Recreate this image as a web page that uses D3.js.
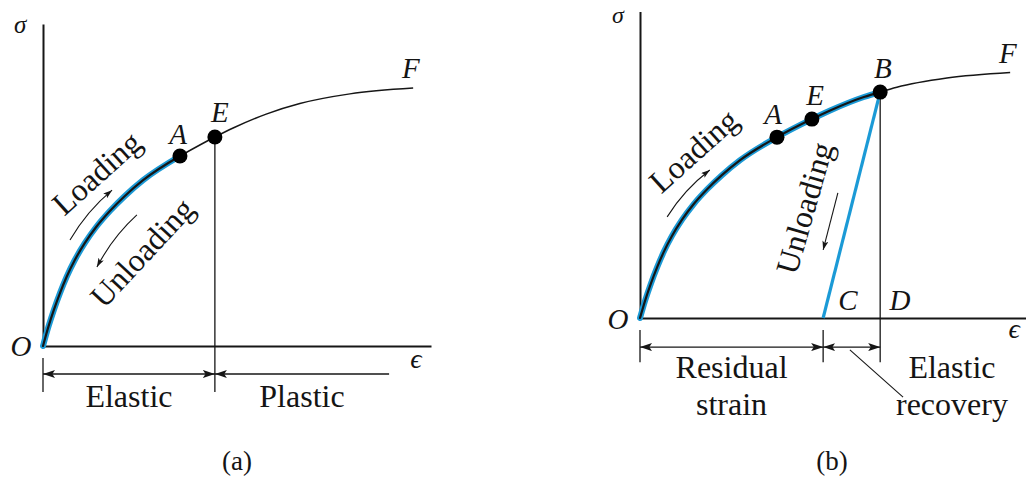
<!DOCTYPE html>
<html>
<head>
<meta charset="utf-8">
<script src="https://cdn.jsdelivr.net/npm/d3@7"></script>
<style>
  body { margin: 0; background: #fff; }
  svg { display: block; }
  text { font-family: "Liberation Serif", "Times New Roman", serif; fill: #141414; }
  .sym { font-style: italic; }
</style>
</head>
<body>
<svg id="chart" width="1026" height="483"></svg>
<script>
// Stress–strain curve (plot units): strain on the horizontal axis, stress on the vertical
const strain = [0, 1.4, 2.8, 4.4, 6.1, 8.2, 10.8, 13.8, 17.3, 21.1, 25.8, 35.3, 44.3, 49.0, 57.7, 66.2, 79.1, 95.4];
const stress = [0, 6.0, 11.2, 16.5, 21.5, 26.7, 32.0, 37.1, 42.0, 46.6, 51.5, 59.0, 64.9, 67.7, 72.1, 75.3, 78.3, 80.1];

// Named points on the curve
const pointNames   = ["A", "E", "B"];
const pointStrain  = [35.3, 44.3, 61.9];
const pointStress  = [59.0, 64.9, 73.7];

// Point C: strain left after unloading from B
const residualStrain = 47.2;
// End of the "Plastic" span arrow in panel (a)
const plasticEnd = 89.2;

const curve = strain.map((s, i) => ({ strain: s, stress: stress[i] }));
const named = {};
pointNames.forEach((n, i) => named[n] = { strain: pointStrain[i], stress: pointStress[i] });

const svg = d3.select("#chart");
const ink = "#161616";
const blue = "#1b9ad6";

// Arrowhead markers
const defs = svg.append("defs");
function marker(id, w, h) {
  defs.append("marker")
    .attr("id", id)
    .attr("viewBox", `0 0 ${w} ${h}`)
    .attr("refX", w).attr("refY", h / 2)
    .attr("markerWidth", w).attr("markerHeight", h)
    .attr("markerUnits", "userSpaceOnUse")
    .attr("orient", "auto-start-reverse")
    .append("path")
    .attr("d", `M0,0 L${w},${h / 2} L0,${h} L${w * 0.22},${h / 2} Z`)
    .attr("fill", ink);
}
marker("dim", 12, 8);
marker("small", 9, 6);

const line = (x, y) => d3.line().x(d => x(d.strain)).y(d => y(d.stress)).curve(d3.curveMonotoneX);

function drawPanel(cfg) {
  const { x, y } = cfg;
  const g = svg.append("g");
  const P = (s, t) => [x(s), y(t)];

  // Axes (no ticks, just the axis lines)
  g.append("g").attr("transform", `translate(0,${y(0)})`)
    .call(d3.axisBottom(x).tickValues([]).tickSizeOuter(0))
    .call(a => a.select(".domain").attr("stroke", ink).attr("stroke-width", 2));
  g.append("g").attr("transform", `translate(${x(0)},0)`)
    .call(d3.axisLeft(y).tickValues([]).tickSizeOuter(0))
    .call(a => a.select(".domain").attr("stroke", ink).attr("stroke-width", 2));

  const split = named[cfg.splitAt];
  const loaded = curve.filter(d => d.strain < split.strain).concat([split]);
  const rest = [split].concat(curve.filter(d => d.strain > split.strain));

  // Vertical drop line from the marked point through the strain axis
  const drop = named[cfg.dropFrom];
  g.append("line")
    .attr("x1", x(drop.strain)).attr("x2", x(drop.strain))
    .attr("y1", y(drop.stress)).attr("y2", y(cfg.dimBottom))
    .attr("stroke", ink).attr("stroke-width", 1.3);

  // Remaining part of the curve beyond the loaded range
  g.append("path").datum(rest).attr("d", line(x, y))
    .attr("fill", "none").attr("stroke", ink).attr("stroke-width", 1.5);

  // Unloading line B → C
  if (cfg.unload) {
    const b = named.B;
    g.append("line")
      .attr("x1", x(b.strain)).attr("y1", y(b.stress))
      .attr("x2", x(residualStrain)).attr("y2", y(0))
      .attr("stroke", blue).attr("stroke-width", 3.2);
  }

  // Loaded part: blue band with a dark core
  g.append("path").datum(loaded).attr("d", line(x, y))
    .attr("fill", "none").attr("stroke", blue).attr("stroke-width", 6).attr("stroke-linecap", "round");
  g.append("path").datum(loaded).attr("d", line(x, y))
    .attr("fill", "none").attr("stroke", ink).attr("stroke-width", 2.2).attr("stroke-linecap", "round");

  // Marked points
  cfg.dots.forEach(n => {
    g.append("circle").attr("cx", x(named[n].strain)).attr("cy", y(named[n].stress))
      .attr("r", 7.5).attr("fill", "#000");
  });

  // Italic symbol labels
  cfg.symbols.forEach(s => {
    const [px, py] = P(s.at[0], s.at[1]);
    g.append("text").attr("class", "sym").attr("x", px).attr("y", py)
      .attr("text-anchor", "middle").attr("font-size", s.size || 29).text(s.t);
  });

  // Rotated Loading / Unloading captions
  cfg.rotated.forEach(r => {
    const [px, py] = P(r.at[0], r.at[1]);
    g.append("text").attr("transform", `translate(${px},${py}) rotate(${r.angle})`)
      .attr("text-anchor", "middle").attr("font-size", 32).text(r.t);
  });

  // Direction arrows beside the captions
  cfg.arrows.forEach(a => {
    const p0 = P(...a.from), p1 = P(...a.to);
    const path = d3.path();
    path.moveTo(...p0);
    if (a.via) path.quadraticCurveTo(...P(...a.via), ...p1); else path.lineTo(...p1);
    g.append("path").attr("d", path.toString()).attr("fill", "none")
      .attr("stroke", ink).attr("stroke-width", 1.1).attr("marker-end", "url(#small)");
  });

  // Dimension arrows below the strain axis
  cfg.ticks.forEach(t => {
    g.append("line").attr("x1", x(t)).attr("x2", x(t))
      .attr("y1", y(cfg.dimTop)).attr("y2", y(cfg.dimBottom))
      .attr("stroke", ink).attr("stroke-width", 1.3);
  });
  cfg.spans.forEach(sp => {
    g.append("line").attr("x1", x(sp.from)).attr("x2", x(sp.to))
      .attr("y1", y(cfg.dimY)).attr("y2", y(cfg.dimY))
      .attr("stroke", ink).attr("stroke-width", 1.3)
      .attr("marker-start", sp.both ? "url(#dim)" : null)
      .attr("marker-end", "url(#dim)");
  });
  cfg.captions.forEach(c => {
    const [px, py] = P(c.at[0], c.at[1]);
    g.append("text").attr("x", px).attr("y", py).attr("text-anchor", "middle")
      .attr("font-size", c.size || 32).text(c.t);
  });
  if (cfg.leader) {
    g.append("line")
      .attr("x1", x(cfg.leader[0][0])).attr("y1", y(cfg.leader[0][1]))
      .attr("x2", x(cfg.leader[1][0])).attr("y2", y(cfg.leader[1][1]))
      .attr("stroke", ink).attr("stroke-width", 1.1);
  }
}

// Panel (a): elastic loading up to A, yield at E
drawPanel({
  x: d3.scaleLinear([0, 100], [43, 431]),
  y: d3.scaleLinear([0, 100], [346, 24]),
  splitAt: "A",
  dropFrom: "E",
  dots: ["A", "E"],
  symbols: [
    { t: "σ", at: [-5.9, 97.2], size: 25 },
    { t: "O", at: [-5.7, -3.1] },
    { t: "ϵ", at: [96.1, -6.8], size: 28 },
    { t: "A", at: [34.8, 62.7] },
    { t: "E", at: [45.6, 69.6] },
    { t: "F", at: [94.8, 83.2] }
  ],
  rotated: [
    { t: "Loading", at: [15.7, 51.2], angle: -42 },
    { t: "Unloading", at: [27.6, 26.7], angle: -47 }
  ],
  arrows: [
    { from: [6.96, 32.9], via: [11.3, 41.9], to: [17.8, 48.4] },
    { from: [24.2, 40.7], via: [18.0, 33.9], to: [13.9, 24.5] }
  ],
  dimY: -8.7, dimTop: -3.7, dimBottom: -14.3,
  ticks: [0],
  spans: [
    { from: 0, to: named.E.strain, both: true },
    { from: plasticEnd, to: named.E.strain, both: false }
  ],
  captions: [
    { t: "Elastic", at: [named.E.strain / 2, -18.9] },
    { t: "Plastic", at: [(named.E.strain + plasticEnd) / 2, -18.9] },
    { t: "(a)", at: [50.0, -38.5], size: 27 }
  ]
});

// Panel (b): loading past yield to B, unloading along BC
drawPanel({
  x: d3.scaleLinear([0, 100], [640, 1028]),
  y: d3.scaleLinear([0, 100], [318, 11.5]),
  splitAt: "B",
  dropFrom: "B",
  unload: true,
  dots: ["A", "E", "B"],
  symbols: [
    { t: "σ", at: [-5.7, 96.4], size: 24 },
    { t: "O", at: [-5.7, -3.6] },
    { t: "ϵ", at: [96.4, -6.5], size: 28 },
    { t: "A", at: [34.3, 63.3] },
    { t: "E", at: [45.1, 69.5] },
    { t: "B", at: [62.6, 78.3] },
    { t: "F", at: [94.8, 83.2] },
    { t: "C", at: [53.6, 2.6] },
    { t: "D", at: [67.0, 2.6] }
  ],
  rotated: [
    { t: "Loading", at: [15.7, 51.9], angle: -42 },
    { t: "Unloading", at: [45.1, 34.9], angle: -74 }
  ],
  arrows: [
    { from: [7.0, 33.0], via: [11.3, 41.8], to: [18.0, 48.3] },
    { from: [51.0, 40.8], to: [47.2, 22.2] }
  ],
  dimY: -9.5, dimTop: -3.9, dimBottom: -14.4,
  ticks: [0, residualStrain],
  spans: [
    { from: 0, to: residualStrain, both: true },
    { from: residualStrain, to: named.B.strain, both: true }
  ],
  captions: [
    { t: "Residual", at: [23.6, -19.6] },
    { t: "strain", at: [23.6, -31.6] },
    { t: "Elastic", at: [80.4, -19.6] },
    { t: "recovery", at: [80.4, -31.6] },
    { t: "(b)", at: [49.5, -49.6], size: 27 }
  ],
  leader: [[54.1, -10.4], [67.8, -25.8]]
});
</script>
</body>
</html>
